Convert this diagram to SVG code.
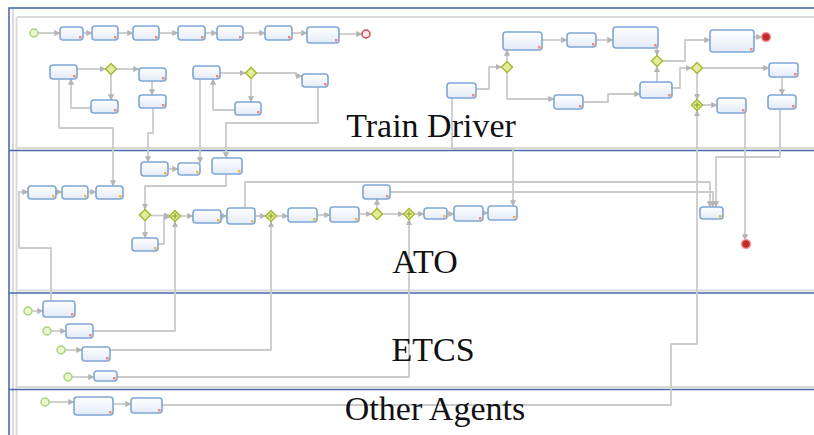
<svg xmlns="http://www.w3.org/2000/svg" xmlns:xlink="http://www.w3.org/1999/xlink" width="814" height="435" viewBox="0 0 814 435">
<style>
.pool{fill:#fff;stroke:#3f62a6;stroke-width:1.5}
.sep{stroke:#4a6aa8;stroke-width:1.5}
.inner{stroke:#dadada;stroke-width:2;fill:none}
.task{fill:url(#tg);stroke:#7fa6d6;stroke-width:1.6}
.mk{fill:#f28b7a}
.mka{fill:#f2b648}
.flow{fill:none;stroke:#cbcbcb;stroke-width:1.8;stroke-linejoin:round;marker-end:url(#ah)}
.gw{fill:#e4ec9a;stroke:#a5b935;stroke-width:1.5}
.plus{stroke:#8a9a20;stroke-width:1}
.start{fill:#e9f6cf;stroke:#a9d47a;stroke-width:1.5}
.endr{fill:#fde4e4;stroke:#d04848;stroke-width:1.5}
.endf{fill:#c42a2a;stroke:#f0a0a0;stroke-width:1.5}
.big{font-family:"Liberation Serif","Times New Roman",serif;font-size:34px;fill:#111;text-anchor:middle}
</style>
<defs>
<linearGradient id="tg" x1="0" y1="0" x2="0" y2="1"><stop offset="0" stop-color="#ffffff"/><stop offset="1" stop-color="#e3ebf7"/></linearGradient>
<marker id="ah" viewBox="0 0 6 6" refX="5.5" refY="3" markerWidth="3.5" markerHeight="3.5" orient="auto"><path d="M0,0 L6,3 L0,6Z" fill="#b4b4b4"/></marker>
<path id="dia" d="M0,-5.5 L5.5,0 L0,5.5 L-5.5,0Z"/>
</defs>

<g id="pool">
<rect class="pool" x="9" y="8" width="808" height="430"/>
<path class="inner" d="M17,17 H814 M13,9 V435 M16.5,17 V435 M17,148 H814 M17,290.5 H814 M17,387 H814"/>
<path class="sep" d="M9,150.5 H814 M9,293 H814 M9,389.5 H814"/>
</g>

<g id="connectors">
<path class="flow" d="M38,33 H60"/>
<path class="flow" d="M83,33 H92"/>
<path class="flow" d="M118,33 H133"/>
<path class="flow" d="M159,33 H178"/>
<path class="flow" d="M205,33 H217"/>
<path class="flow" d="M243,33 H265"/>
<path class="flow" d="M292,33 H307"/>
<path class="flow" d="M339,34 H362"/>
<path class="flow" d="M77,69 H105.5"/>
<path class="flow" d="M116.5,69 H139"/>
<path class="flow" d="M111,74.5 V100"/>
<path class="flow" d="M91,108 H71 V79"/>
<path class="flow" d="M59,79 V128 H113 V186"/>
<path class="flow" d="M152,81 V95"/>
<path class="flow" d="M153,108 V133 H148 V162"/>
<path class="flow" d="M220,73 H245.5"/>
<path class="flow" d="M256.5,73 H296 V76 H302"/>
<path class="flow" d="M251,78.5 V102"/>
<path class="flow" d="M235,110 H213 V79"/>
<path class="flow" d="M200,79 V163"/>
<path class="flow" d="M318,87 V123 H226 V158"/>
<path class="flow" d="M476,89 H489 V67 H501.5"/>
<path class="flow" d="M507,61.5 V50"/>
<path class="flow" d="M507,72.5 V99 H554"/>
<path class="flow" d="M542,40 H567"/>
<path class="flow" d="M596,40 H613"/>
<path class="flow" d="M583,102 H608 V94 H640"/>
<path class="flow" d="M657,48 V55.5"/>
<path class="flow" d="M657,82 V66.5"/>
<path class="flow" d="M662.5,61 H685 V40 H710"/>
<path class="flow" d="M754,37 H762"/>
<path class="flow" d="M672,88 H680 V68 H691.5"/>
<path class="flow" d="M702.5,68 H769"/>
<path class="flow" d="M697,73.5 V99.5"/>
<path class="flow" d="M702.5,105 H717"/>
<path class="flow" d="M162,405 H671 V344 H697 V110.5"/>
<path class="flow" d="M745,113 V240"/>
<path class="flow" d="M782,77 V95"/>
<path class="flow" d="M780,109 V157 H716 V207"/>
<path class="flow" d="M452,98 V149 H513 V206"/>
<path class="flow" d="M51,301 V248 H19 V192 H28"/>
<path class="flow" d="M56,192 H62"/>
<path class="flow" d="M88,192 H96"/>
<path class="flow" d="M168,169 H178"/>
<path class="flow" d="M226,174 V186 H145 V209.5"/>
<path class="flow" d="M145,220.5 V238"/>
<path class="flow" d="M150.5,215.5 H169.5"/>
<path class="flow" d="M158,244 H164 V217 H169.5"/>
<path class="flow" d="M180.5,216 H193"/>
<path class="flow" d="M93,331 H175 V221.5"/>
<path class="flow" d="M221,216 H227"/>
<path class="flow" d="M255,216 H265.5"/>
<path class="flow" d="M110,350 H271 V221.5"/>
<path class="flow" d="M276.5,216 H288"/>
<path class="flow" d="M317,215 H330"/>
<path class="flow" d="M359,214 H371.5"/>
<path class="flow" d="M377,208.5 V199"/>
<path class="flow" d="M382.5,214 H403.5"/>
<path class="flow" d="M117,377 H409 V219.5"/>
<path class="flow" d="M414.5,214 H424"/>
<path class="flow" d="M447,214 H454"/>
<path class="flow" d="M483,213 H488"/>
<path class="flow" d="M245,208 V182 H710 V207"/>
<path class="flow" d="M390,192 H713 V207"/>
<path class="flow" d="M32,311 H43"/>
<path class="flow" d="M51,331 H66"/>
<path class="flow" d="M65,350 H82"/>
<path class="flow" d="M72,377 H94"/>
<path class="flow" d="M49,402 H74"/>
<path class="flow" d="M113,404 H131"/>
</g>

<g id="s1"><circle class="start" cx="34" cy="33" r="4"/></g>
<g id="t1"><rect class="task" x="60" y="27" width="23" height="13" rx="3"/><rect class="mk" x="79" y="36" width="2.5" height="2.5"/></g>
<g id="t2"><rect class="task" x="92" y="26" width="26" height="14" rx="3"/><rect class="mk" x="114" y="36" width="2.5" height="2.5"/></g>
<g id="t3"><rect class="task" x="133" y="26" width="26" height="14" rx="3"/><rect class="mk" x="155" y="36" width="2.5" height="2.5"/></g>
<g id="t4"><rect class="task" x="178" y="26" width="27" height="14" rx="3"/><rect class="mk" x="201" y="36" width="2.5" height="2.5"/></g>
<g id="t5"><rect class="task" x="217" y="26" width="26" height="14" rx="3"/><rect class="mk" x="239" y="36" width="2.5" height="2.5"/></g>
<g id="t6"><rect class="task" x="265" y="26" width="27" height="14" rx="3"/><rect class="mk" x="288" y="36" width="2.5" height="2.5"/></g>
<g id="t7"><rect class="task" x="307" y="27" width="32" height="16" rx="3"/><rect class="mk" x="335" y="39" width="2.5" height="2.5"/></g>
<g id="e1"><circle class="endr" cx="366" cy="34" r="4"/></g>

<g id="tA"><rect class="task" x="50" y="65" width="27" height="14" rx="3"/><rect class="mk" x="73" y="75" width="2.5" height="2.5"/></g>
<g id="gA"><use href="#dia" x="111" y="69" class="gw"/></g>
<g id="tB"><rect class="task" x="139" y="68" width="27" height="13" rx="3"/><rect class="mk" x="162" y="77" width="2.5" height="2.5"/></g>
<g id="tC"><rect class="task" x="91" y="100" width="27" height="13" rx="3"/><rect class="mk" x="114" y="109" width="2.5" height="2.5"/></g>
<g id="tD"><rect class="task" x="139" y="95" width="27" height="13" rx="3"/><rect class="mk" x="162" y="104" width="2.5" height="2.5"/></g>
<g id="tI"><rect class="task" x="193" y="66" width="27" height="13" rx="3"/><rect class="mk" x="216" y="75" width="2.5" height="2.5"/></g>
<g id="gB"><use href="#dia" x="251" y="73" class="gw"/></g>
<g id="tJ"><rect class="task" x="235" y="102" width="26" height="13" rx="3"/><rect class="mk" x="257" y="111" width="2.5" height="2.5"/></g>
<g id="tK"><rect class="task" x="302" y="74" width="26" height="13" rx="3"/><rect class="mk" x="324" y="83" width="2.5" height="2.5"/></g>
<g id="tL"><rect class="task" x="447" y="83" width="29" height="15" rx="3"/><rect class="mk" x="472" y="94" width="2.5" height="2.5"/></g>
<g id="gC"><use href="#dia" x="507" y="67" class="gw"/></g>
<g id="tM"><rect class="task" x="503" y="32" width="39" height="18" rx="3"/><rect class="mk" x="538" y="46" width="2.5" height="2.5"/></g>
<g id="tN"><rect class="task" x="554" y="95" width="29" height="14" rx="3"/><rect class="mk" x="579" y="105" width="2.5" height="2.5"/></g>
<g id="tO"><rect class="task" x="567" y="33" width="29" height="14" rx="3"/><rect class="mk" x="592" y="43" width="2.5" height="2.5"/></g>
<g id="tP"><rect class="task" x="613" y="27" width="45" height="21" rx="3"/><rect class="mk" x="654" y="44" width="2.5" height="2.5"/></g>
<g id="gD"><use href="#dia" x="657" y="61" class="gw"/></g>
<g id="tQ"><rect class="task" x="640" y="82" width="32" height="16" rx="3"/><rect class="mk" x="668" y="94" width="2.5" height="2.5"/></g>
<g id="tR"><rect class="task" x="710" y="30" width="44" height="22" rx="3"/><rect class="mk" x="750" y="48" width="2.5" height="2.5"/></g>
<g id="e2"><circle class="endf" cx="766" cy="37" r="4.5"/></g>
<g id="gE"><use href="#dia" x="697" y="68" class="gw"/></g>
<g id="tS"><rect class="task" x="769" y="63" width="29" height="14" rx="3"/><rect class="mk" x="794" y="73" width="2.5" height="2.5"/></g>
<g id="gF"><use href="#dia" x="697" y="105" class="gw"/><path class="plus" d="M694,105 H700 M697,102 V108"/></g>
<g id="tT"><rect class="task" x="717" y="98" width="29" height="15" rx="3"/><rect class="mk" x="742" y="109" width="2.5" height="2.5"/></g>
<g id="tU"><rect class="task" x="768" y="95" width="28" height="14" rx="3"/><rect class="mk" x="792" y="105" width="2.5" height="2.5"/></g>
<g id="e3"><circle class="endf" cx="746" cy="244" r="4.5"/></g>

<g id="a1"><rect class="task" x="28" y="186" width="28" height="13" rx="3"/><rect class="mka" x="52" y="195" width="2.5" height="2.5"/></g>
<g id="a2"><rect class="task" x="62" y="186" width="26" height="13" rx="3"/><rect class="mka" x="84" y="195" width="2.5" height="2.5"/></g>
<g id="tE"><rect class="task" x="96" y="186" width="27" height="13" rx="3"/><rect class="mka" x="119" y="195" width="2.5" height="2.5"/></g>
<g id="tF"><rect class="task" x="141" y="162" width="27" height="14" rx="3"/><rect class="mka" x="164" y="172" width="2.5" height="2.5"/></g>
<g id="tG"><rect class="task" x="178" y="163" width="22" height="12" rx="3"/><rect class="mka" x="196" y="171" width="2.5" height="2.5"/></g>
<g id="tH"><rect class="task" x="212" y="158" width="30" height="16" rx="3"/><rect class="mka" x="238" y="170" width="2.5" height="2.5"/></g>
<g id="gG"><use href="#dia" x="145" y="215" class="gw"/></g>
<g id="tY"><rect class="task" x="132" y="238" width="26" height="13" rx="3"/><rect class="mka" x="154" y="247" width="2.5" height="2.5"/></g>
<g id="gH"><use href="#dia" x="175" y="216" class="gw"/><path class="plus" d="M172,216 H178 M175,213 V219"/></g>
<g id="tZ1"><rect class="task" x="193" y="210" width="28" height="13" rx="3"/><rect class="mka" x="217" y="219" width="2.5" height="2.5"/></g>
<g id="tW"><rect class="task" x="227" y="208" width="28" height="16" rx="3"/><rect class="mka" x="251" y="220" width="2.5" height="2.5"/></g>
<g id="gI"><use href="#dia" x="271" y="216" class="gw"/><path class="plus" d="M268,216 H274 M271,213 V219"/></g>
<g id="tAA"><rect class="task" x="288" y="208" width="29" height="14" rx="3"/><rect class="mka" x="313" y="218" width="2.5" height="2.5"/></g>
<g id="tAB"><rect class="task" x="330" y="207" width="29" height="15" rx="3"/><rect class="mka" x="355" y="218" width="2.5" height="2.5"/></g>
<g id="gJ"><use href="#dia" x="377" y="214" class="gw"/></g>
<g id="tX"><rect class="task" x="363" y="185" width="27" height="14" rx="3"/><rect class="mk" x="386" y="195" width="2.5" height="2.5"/></g>
<g id="gK"><use href="#dia" x="409" y="214" class="gw"/><path class="plus" d="M406,214 H412 M409,211 V217"/></g>
<g id="tAC"><rect class="task" x="424" y="208" width="23" height="11" rx="3"/><rect class="mka" x="443" y="215" width="2.5" height="2.5"/></g>
<g id="tAD"><rect class="task" x="454" y="206" width="29" height="15" rx="3"/><rect class="mk" x="479" y="217" width="2.5" height="2.5"/></g>
<g id="tZ"><rect class="task" x="488" y="206" width="29" height="14" rx="3"/><rect class="mka" x="513" y="216" width="2.5" height="2.5"/></g>
<g id="tV"><rect class="task" x="700" y="207" width="23" height="12" rx="3"/><rect class="mka" x="719" y="215" width="2.5" height="2.5"/></g>

<g id="es1"><circle class="start" cx="28" cy="311" r="4"/></g>
<g id="c1"><rect class="task" x="43" y="301" width="32" height="16" rx="3"/><rect class="mk" x="71" y="313" width="2.5" height="2.5"/></g>
<g id="es2"><circle class="start" cx="47" cy="331" r="4"/></g>
<g id="c2"><rect class="task" x="66" y="324" width="27" height="14" rx="3"/><rect class="mk" x="89" y="334" width="2.5" height="2.5"/></g>
<g id="es3"><circle class="start" cx="61" cy="350" r="4"/></g>
<g id="c3"><rect class="task" x="82" y="347" width="28" height="14" rx="3"/><rect class="mk" x="106" y="357" width="2.5" height="2.5"/></g>
<g id="es4"><circle class="start" cx="68" cy="377" r="4"/></g>
<g id="c4"><rect class="task" x="94" y="371" width="23" height="10" rx="3"/><rect class="mk" x="113" y="377" width="2.5" height="2.5"/></g>

<g id="es5"><circle class="start" cx="45" cy="402" r="4"/></g>
<g id="o1"><rect class="task" x="74" y="397" width="39" height="18" rx="3"/><rect class="mk" x="109" y="411" width="2.5" height="2.5"/></g>
<g id="o2"><rect class="task" x="131" y="398" width="31" height="15" rx="3"/><rect class="mk" x="158" y="409" width="2.5" height="2.5"/></g>

<g id="lane-labels">
<text class="big" x="431" y="137">Train Driver</text>
<text class="big" x="425" y="273">ATO</text>
<text class="big" x="433" y="361">ETCS</text>
<text class="big" x="435" y="420">Other Agents</text>
</g>
</svg>
